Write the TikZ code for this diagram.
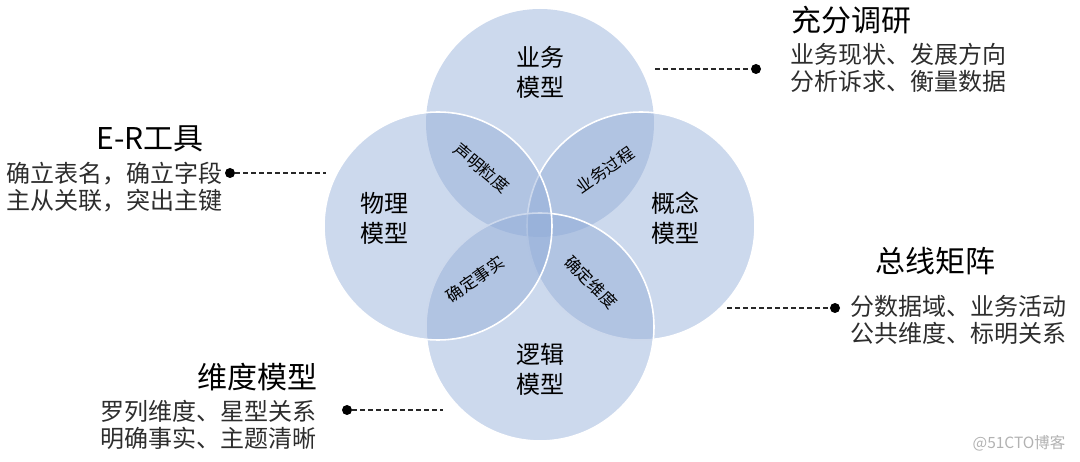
\documentclass[tikz,border=0pt]{standalone}
\usepackage{fontspec}
\setmainfont{Noto Sans CJK SC}
\usepackage{tikz}

\definecolor{bubblefill}{RGB}{143,170,214}
\definecolor{bodytext}{RGB}{45,45,45}
\definecolor{dotline}{RGB}{40,40,40}

\tikzset{
    bubble/.style={circle, minimum size=228pt, inner sep=0pt,
        fill=bubblefill, fill opacity=0.45, draw=white, line width=1.6pt},
    modelname/.style={align=center, font=\fontsize{24}{30}\selectfont},
    overlap/.style={font=\fontsize{16.5}{18}\selectfont},
    headline/.style={font=\fontsize{30}{34}\selectfont, inner sep=0pt},
    bodylines/.style={align=left, font=\fontsize{24}{27}\selectfont,
        text=bodytext, inner sep=0pt},
    dot/.style={circle, fill=black, minimum width=9pt, minimum height=10pt, inner sep=0pt},
    leader/.style={dotline, line width=1.1pt, dash pattern=on 4.5pt off 3.5pt}
}

\begin{document}
\begin{tikzpicture}[x=1pt, y=-1pt]
    \useasboundingbox (0,0) rectangle (1080,462);

    % the four circles, back to front
    \node[bubble, draw=none] (ywc) at (540,123) {};
    \node[bubble] (gnc) at (641,226) {};
    \node[bubble] (ljc) at (540,327) {};
    \node[bubble] (wlc) at (438,226) {};

    \node[modelname] (yw) at (540,72) {业务\\模型};
    \node[modelname] (wl) at (384,218) {物理\\模型};
    \node[modelname] (gn) at (675,218) {概念\\模型};
    \node[modelname] (lj) at (540,369) {逻辑\\模型};

    \node[overlap, rotate=-40] (smld) at (482,168) {声明粒度};
    \node[overlap, rotate=35] (ywgc) at (605,170) {业务过程};
    \node[overlap, rotate=35] (qdss) at (475,279) {确定事实};
    \node[overlap, rotate=-45] (qdwd) at (591,282) {确定维度};

    % top right: research
    \node[headline, anchor=west] (dy) at (791,20) {充分调研};
    \node[bodylines, anchor=west] (dytxt) at (790,68) {业务现状、发展方向\\分析诉求、衡量数据};
    \node[dot] (dydot) at (756,69) {};
    \coordinate (dyend) at (655,69);
    \draw[leader] (dyend) -- (dydot);

    % left: E-R
    \node[headline] (er) at (150,139) {E-R工具};
    \node[bodylines, anchor=west] (ertxt) at (6,187) {确立表名，确立字段\\主从关联，突出主键};
    \node[dot] (erdot) at (230,173) {};
    \coordinate (erend) at (326,173);
    \draw[leader] (erdot) -- (erend);

    % right: bus matrix
    \node[headline] (zx) at (935,261) {总线矩阵};
    \node[bodylines, anchor=west] (zxtxt) at (850,320) {分数据域、业务活动\\公共维度、标明关系};
    \node[dot] (zxdot) at (835,308) {};
    \coordinate (zxend) at (727,308);
    \draw[leader] (zxend) -- (zxdot);

    % bottom left: dimensional model
    \node[headline, anchor=east] (wd) at (318,377) {维度模型};
    \node[bodylines, anchor=west] (wdtxt) at (100,425) {罗列维度、星型关系\\明确事实、主题清晰};
    \node[dot] (wddot) at (347,410) {};
    \coordinate (wdend) at (443,410);
    \draw[leader] (wddot) -- (wdend);

    \node[text=black!30, font=\fontsize{15.5}{17}\selectfont] (mark) at (1019,443) {@51CTO博客};
\end{tikzpicture}
\end{document}
